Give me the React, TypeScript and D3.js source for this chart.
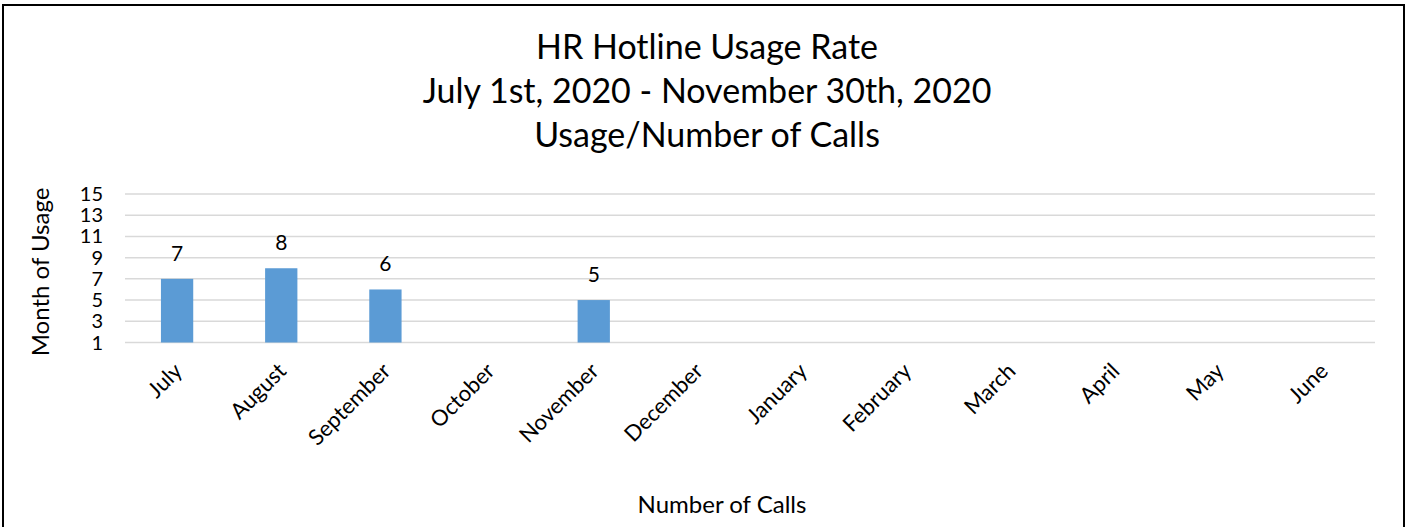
import React from "react";
import * as d3 from "d3";

const months = ["July","August","September","October","November","December","January","February","March","April","May","June"];
const calls: (number | null)[] = [7, 8, 6, null, 5, null, null, null, null, null, null, null];
const yTicks = [1, 3, 5, 7, 9, 11, 13, 15];
const titleLines = ["HR Hotline Usage Rate", "July 1st, 2020 - November 30th, 2020", "Usage/Number of Calls"];
const xTitle = "Number of Calls";
const yTitle = "Month of Usage";

const W = 1416, H = 527;
const FONT = "Lato, 'Open Sans', sans-serif";

export default function App() {
  const x = d3.scaleBand<string>().domain(months).range([125, 1375]).paddingInner(0.69).paddingOuter(0.345);
  const y = d3.scaleLinear().domain([1, 15]).range([342.5, 194]);
  const band = x.bandwidth();
  return (
    <svg width={W} height={H} style={{ position: "absolute", left: 0, top: 0, background: "#fff" }}>
      <rect x={3} y={5} width={1401} height={H} fill="#fff" stroke="#000" strokeWidth={2} />
      {titleLines.map((t, i) => (
        <text key={i} x={707} y={59 + i * 44} textAnchor="middle" fontFamily={FONT} fontSize={34} fill="#000">{t}</text>
      ))}
      {yTicks.map(t => (
        <line key={t} x1={125} x2={1375} y1={y(t)} y2={y(t)} stroke="#d9d9d9" strokeWidth={1.5} />
      ))}
      {yTicks.map(t => (
        <text key={"l" + t} x={103} y={y(t)} dy="0.35em" textAnchor="end" fontFamily={FONT} fontSize={20} fill="#000">{t}</text>
      ))}
      {months.map((m, i) => {
        const v = calls[i];
        if (v == null) return null;
        const bx = x(m)!;
        return (
          <g key={m}>
            <rect x={bx} y={y(v)} width={band} height={y(1) - y(v)} fill="#5b9bd5" />
            <text x={bx + band / 2} y={y(v) - 18} textAnchor="middle" fontFamily={FONT} fontSize={21} fill="#000">{v}</text>
          </g>
        );
      })}
      {months.map(m => {
        const cx = x(m)! + band / 2;
        return (
          <text key={"x" + m} transform={`translate(${cx + 1},${367}) rotate(-45)`} textAnchor="end" dy="0.35em" fontFamily={FONT} fontSize={22} fill="#000">{m}</text>
        );
      })}
      <text x={722} y={513} textAnchor="middle" fontFamily={FONT} fontSize={24} fill="#000">{xTitle}</text>
      <text transform={`translate(49,272) rotate(-90)`} textAnchor="middle" fontFamily={FONT} fontSize={24} fill="#000">{yTitle}</text>
    </svg>
  );
}
